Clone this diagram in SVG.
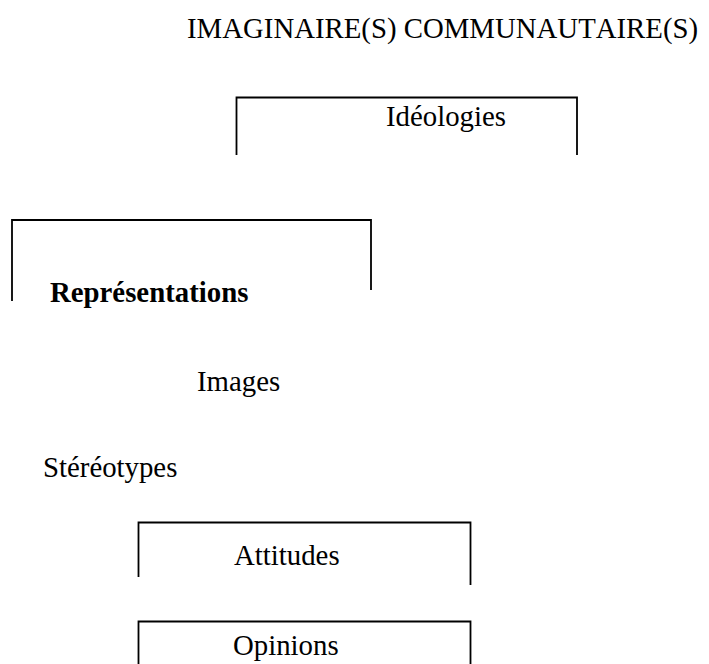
<svg xmlns="http://www.w3.org/2000/svg" width="709" height="664" viewBox="0 0 709 664">
<style>
text{font-family:"Liberation Serif","Times New Roman",serif;font-size:28.8px;fill:#000;font-kerning:none}
.b{font-weight:bold}
.frame{fill:none;stroke:#000;stroke-width:1.8}
</style>
<rect width="709" height="664" fill="#fff"/>
<g id="title"><text x="187" y="38">IMAGINAIRE(S) COMMUNAUTAIRE(S)</text></g>
<g id="ideologies">
<path class="frame" d="M236.5,155 V97.5 H577 V155"/>
<text x="386" y="126">Idéologies</text>
</g>
<g id="representations">
<path class="frame" d="M12,301 V220 H371 V290"/>
<text class="b" x="50" y="302">Représentations</text>
</g>
<g id="images"><text x="197" y="391">Images</text></g>
<g id="stereotypes"><text x="43" y="477">Stéréotypes</text></g>
<g id="attitudes">
<path class="frame" d="M138.5,577 V522.5 H470.5 V585"/>
<text x="234" y="565">Attitudes</text>
</g>
<g id="opinions">
<path class="frame" d="M138.5,664 V621.5 H470.5 V664"/>
<text x="233" y="655">Opinions</text>
</g>
<g id="connectors"></g>
</svg>
